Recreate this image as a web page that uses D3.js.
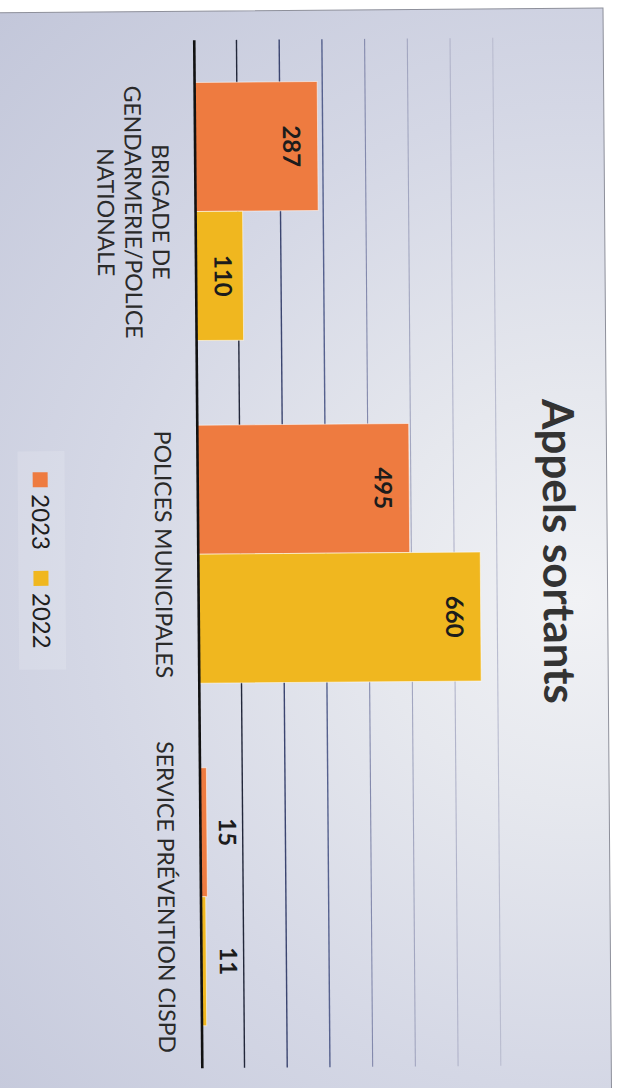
<!DOCTYPE html>
<html>
<head>
<meta charset="utf-8">
<script src="https://cdn.jsdelivr.net/npm/d3@7"></script>
<style>
  html, body { margin: 0; padding: 0; background: #fff; }
  svg { display: block; }
  text { font-family: Lato, "Open Sans", sans-serif; }
</style>
</head>
<body>
<div id="chart"></div>
<script>
// data
var categories = [
  ["BRIGADE DE", "GENDARMERIE/POLICE", "NATIONALE"],
  ["POLICES MUNICIPALES"],
  ["SERVICE PRÉVENTION CISPD"]
];
var seriesNames = ["2023", "2022"];
var values2023 = [287, 495, 15];
var values2022 = [110, 660, 11];
var tickValues = [100, 200, 300, 400, 500, 600, 700];
var seriesColors = ["#ee7b40", "#f0b71f"];
var title = "Appels sortants";

// gridline colours fade out like on the print
var gridColors = ["#22273a", "#3b4570", "#56618e", "#8389ac", "#a2a6c0", "#b1b4ca", "#b9bccf"];

var svgWidth = 618, svgHeight = 1088;

var svg = d3.select("#chart")
    .append("svg")
    .attr("width", svgWidth)
    .attr("height", svgHeight);

// the chart is landscape, the page shows it turned a quarter turn (slightly skewed scan)
var g = svg.append("g")
    .attr("transform", "translate(603,8) rotate(89.55)");

// card background
var defs = svg.append("defs");
var grad = defs.append("radialGradient")
    .attr("id", "bg")
    .attr("gradientUnits", "userSpaceOnUse")
    .attr("cx", 590).attr("cy", 30).attr("r", 820);
grad.append("stop").attr("offset", 0).attr("stop-color", "#f1f2f5");
grad.append("stop").attr("offset", 0.25).attr("stop-color", "#e6e8ee");
grad.append("stop").attr("offset", 0.6).attr("stop-color", "#d4d7e5");
grad.append("stop").attr("offset", 1).attr("stop-color", "#c3c7da");

g.append("rect")
    .attr("x", 0).attr("y", 0)
    .attr("width", 1140).attr("height", 680)
    .attr("fill", "url(#bg)")
    .attr("stroke", "#8e909b")
    .attr("stroke-width", 1);

// scales
var x0 = d3.scaleBand()
    .domain(d3.range(categories.length))
    .range([29, 1057])
    .paddingInner(0.247)
    .paddingOuter(0.1235);

var x1 = d3.scaleBand()
    .domain(seriesNames)
    .range([0, x0.bandwidth()]);

var y = d3.scaleLinear()
    .domain([0, 700])
    .range([409, 110]);

// gridlines
var grid = g.append("g")
    .attr("transform", "translate(29,0)")
    .call(d3.axisLeft(y)
        .tickValues(tickValues)
        .tickSize(-(1057 - 29))
        .tickFormat(""));
grid.select(".domain").remove();
grid.selectAll(".tick line")
    .attr("stroke", function (d, i) { return gridColors[i]; })
    .attr("stroke-width", function (d, i) { return i < 3 ? 1.4 : 1.1; });

// bars
var rows = categories.map(function (c, i) {
  return [
    { cat: i, name: seriesNames[0], value: values2023[i], color: seriesColors[0] },
    { cat: i, name: seriesNames[1], value: values2022[i], color: seriesColors[1] }
  ];
});

var groups = g.selectAll(".cat")
    .data(rows)
    .enter()
    .append("g")
    .attr("class", "cat")
    .attr("transform", function (d, i) { return "translate(" + x0(i) + ",0)"; });

groups.selectAll("rect")
    .data(function (d) { return d; })
    .enter()
    .append("rect")
    .attr("x", function (d) { return x1(d.name); })
    .attr("width", x1.bandwidth())
    .attr("y", function (d) { return y(d.value); })
    .attr("height", function (d) { return y(0) - y(d.value); })
    .attr("fill", function (d) { return d.color; })
    .attr("stroke", "rgba(255,255,255,0.55)")
    .attr("stroke-width", 1);

// value labels, inside end (pushed out when the bar is too short)
groups.selectAll(".val")
    .data(function (d) { return d; })
    .enter()
    .append("text")
    .attr("class", "val")
    .attr("x", function (d) { return x1(d.name) + x1.bandwidth() / 2; })
    .attr("y", function (d) { return Math.min(y(d.value) + 26, y(0) - 27); })
    .attr("dy", "0.36em")
    .attr("text-anchor", "middle")
    .style("font-size", "24px")
    .style("font-weight", "bold")
    .style("fill", "#1c1c1c")
    .text(function (d) { return d.value; });

// baseline
g.append("line")
    .attr("x1", 29).attr("x2", 1057)
    .attr("y1", y(0)).attr("y2", y(0))
    .attr("stroke", "#111")
    .attr("stroke-width", 2.6);

// category labels
var catLabels = g.selectAll(".catlab")
    .data(categories)
    .enter()
    .append("text")
    .attr("class", "catlab")
    .attr("text-anchor", "middle")
    .attr("transform", function (d, i) { return "translate(" + (x0(i) + x0.bandwidth() / 2) + ",452)"; })
    .style("font-size", "23px")
    .style("fill", "#2a2a2a");
catLabels.selectAll("tspan")
    .data(function (d) { return d; })
    .enter()
    .append("tspan")
    .attr("x", 0)
    .attr("y", function (d, i) { return i * 27.5; })
    .text(function (d) { return d; });

// title
g.append("text")
    .attr("x", 543)
    .attr("y", 64)
    .attr("text-anchor", "middle")
    .style("font-size", "44px")
    .style("font-weight", "bold")
    .style("fill", "#333")
    .text(title);

// legend
var legend = g.append("g");
var legendBox = legend.append("rect")
    .attr("fill", "#ffffff")
    .attr("fill-opacity", 0.15);
var cursor = 0;
var items = [];
seriesNames.forEach(function (name, i) {
  var item = legend.append("g");
  item.append("rect")
      .attr("x", cursor).attr("y", 559)
      .attr("width", 15).attr("height", 15)
      .attr("fill", seriesColors[i]);
  var t = item.append("text")
      .attr("x", cursor + 22)
      .attr("y", 575)
      .style("font-size", "24px")
      .style("fill", "#1e1e1e")
      .text(name);
  cursor += 22 + t.node().getComputedTextLength() + 21;
  items.push(item);
});
var legendWidth = cursor - 21;
var legendStart = 548 - legendWidth / 2;
items.forEach(function (item) { item.attr("transform", "translate(" + legendStart + ",0)"); });
legendBox
    .attr("x", legendStart - 21).attr("y", 542)
    .attr("width", legendWidth + 42).attr("height", 47);
</script>
</body>
</html>
